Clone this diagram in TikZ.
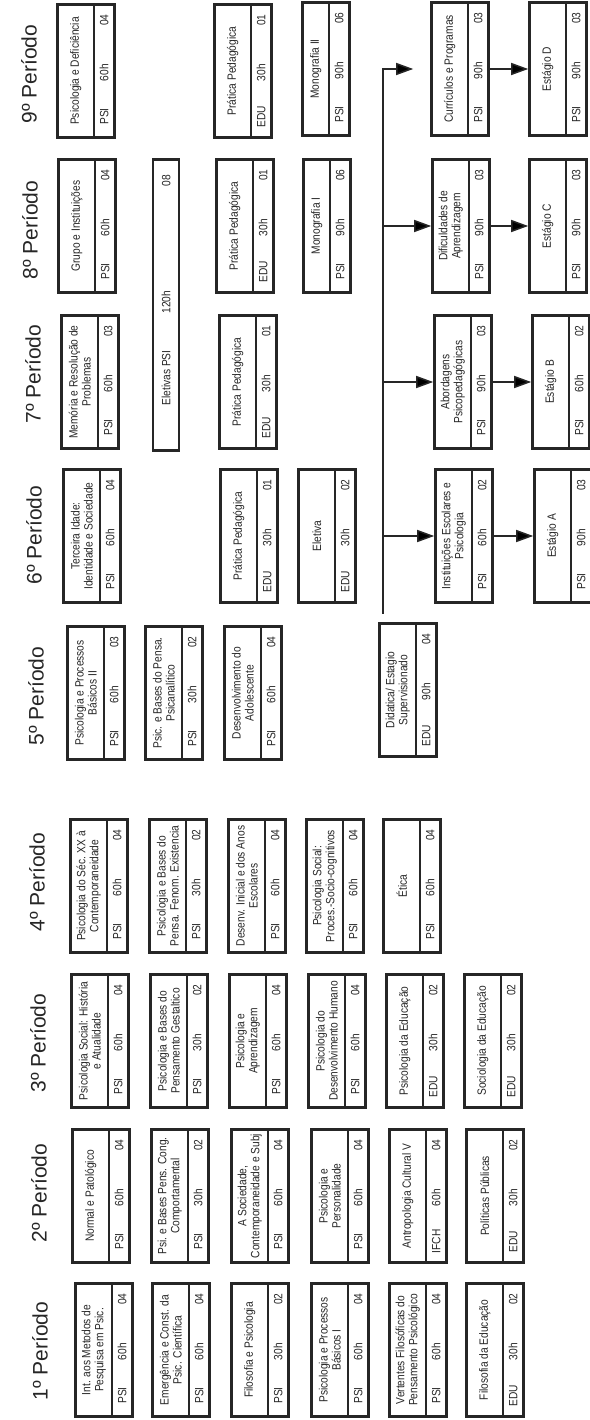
\documentclass[tikz,border=0pt]{standalone}
\usepackage{fontspec}
\setmainfont{Liberation Sans}
\newfontfamily\fonteestreita[FakeStretch=0.85]{Liberation Sans}
\usetikzlibrary{arrows.meta, shapes.multipart, calc}
\definecolor{cinzaescuro}{HTML}{262626}

% caixa de disciplina: [altura do titulo]{nome}{x}{y}{titulo}{depto}{horas}{creditos}
\newcommand{\disciplina}[8][31pt]{%
  \node[disc] (#2) at (#3,#4) {\parbox[c][#1][c]{131pt}{\centering #5}%
    \nodepart{two}\parbox[c][15pt][c]{131pt}{\makebox[40pt][c]{#6}\makebox[48pt][c]{#7}\makebox[43pt][r]{#8\hspace*{9pt}}}};
}

\begin{document}
\begin{tikzpicture}[
    x=1pt, y=-1pt,
    disc/.style={
        rectangle split, rectangle split parts=2,
        draw=cinzaescuro, line width=2.8pt, rotate=90,
        inner sep=1.3pt, text=cinzaescuro,
        font=\fonteestreita\fontsize{12}{13}\selectfont
    },
    eletivas/.style={
        draw=cinzaescuro, line width=2.8pt, rotate=90,
        inner sep=0pt, text=cinzaescuro,
        font=\fonteestreita\fontsize{12}{13}\selectfont
    },
    periodo/.style={rotate=90, text=cinzaescuro, font=\fontsize{21}{24}\selectfont},
    seta/.style={-{Triangle[length=17pt,width=12pt]}, line width=1.5pt, draw=cinzaescuro}
]
\fill[white] (0,0) rectangle (589,1420);
\useasboundingbox (0,0) rectangle (589,1420);

% Titulos dos periodos
\node[periodo] (t1) at (40,1351) {1º Período};
\node[periodo] (t2) at (39,1193) {2º Período};
\node[periodo] (t3) at (38,1043) {3º Período};
\node[periodo] (t4) at (37,882) {4º Período};
\node[periodo] (t5) at (36,696) {5º Período};
\node[periodo] (t6) at (34,535) {6º Período};
\node[periodo] (t7) at (33,374) {7º Período};
\node[periodo] (t8) at (30,230) {8º Período};
\node[periodo] (t9) at (29,74) {9º Período};

% 1º periodo
\disciplina{p1a}{104}{1350}{Int. aos Metodos de\\Pesquisa em Psic.}{PSI}{60h}{04}
\disciplina{p1b}{181}{1350}{Emergência e Const. da\\Psic. Científica}{PSI}{60h}{04}
\disciplina{p1c}{260}{1350}{Filosofia e Psicologia}{PSI}{30h}{02}
\disciplina{p1d}{340}{1350}{Psicologia e Processos\\Básicos I}{PSI}{60h}{04}
\disciplina{p1e}{418}{1350}{Vertentes Filosóficas do\\Pensamento Psicológico}{PSI}{60h}{04}
\disciplina{p1f}{495}{1350}{Filosofia da Educação}{EDU}{30h}{02}

% 2º periodo
\disciplina{p2a}{101}{1196}{Normal e Patológico}{PSI}{60h}{04}
\disciplina{p2b}{180}{1196}{Psi. e Bases Pens. Cong.\\Comportamental}{PSI}{30h}{02}
\disciplina{p2c}{260}{1196}{A Sociedade,\\Contemporaneidade e Subj}{PSI}{60h}{04}
\disciplina{p2d}{340}{1196}{Psicologia e\\Personalidade}{PSI}{60h}{04}
\disciplina{p2e}{418}{1196}{Antropologia Cultural V}{IFCH}{60h}{04}
\disciplina{p2f}{495}{1196}{Políticas Públicas}{EDU}{30h}{02}

% 3º periodo
\disciplina{p3a}{100}{1041}{Psicologia Social: História\\e Atualidade}{PSI}{60h}{04}
\disciplina{p3b}{179}{1041}{Psicologia e Bases do\\Pensamento Gestaltico}{PSI}{30h}{02}
\disciplina{p3c}{258}{1041}{Psicologia e\\Aprendizagem}{PSI}{60h}{04}
\disciplina{p3d}{337}{1041}{Psicologia do\\Desenvolvimento Humano}{PSI}{60h}{04}
\disciplina{p3e}{415}{1041}{Psicologia da Educação}{EDU}{30h}{02}
\disciplina{p3f}{493}{1041}{Sociologia da Educação}{EDU}{30h}{02}

% 4º periodo
\disciplina{p4a}{99}{886}{Psicologia do Séc. XX à\\Contemporaneidade}{PSI}{60h}{04}
\disciplina{p4b}{178}{886}{Psicologia e Bases do\\Pensa. Fenom. Existencia}{PSI}{30h}{02}
\disciplina{p4c}{257}{886}{Desenv. Inicial e dos Anos\\Escolares}{PSI}{60h}{04}
\disciplina{p4d}{335}{886}{Psicologia Social:\\Proces.-Socio-cognitivos}{PSI}{60h}{04}
\disciplina{p4e}{412}{886}{Ética}{PSI}{60h}{04}

% 5º periodo
\disciplina{p5a}{96}{693}{Psicologia e Processos\\Básicos II}{PSI}{60h}{03}
\disciplina{p5b}{174}{693}{Psic. e Bases do Pensa.\\Psicanalítico}{PSI}{30h}{02}
\disciplina{p5c}{253}{693}{Desenvolvimento do\\Adolescente}{PSI}{60h}{04}
\disciplina{didatica}{408}{690}{Didatica/ Estagio\\Supervisionado}{EDU}{90h}{04}

% 6º periodo
\disciplina{p6a}{92}{536}{Terceira Idade:\\Identidade e Sociedade}{PSI}{60h}{04}
\disciplina{p6b}{249}{536}{Prática Pedagógica}{EDU}{30h}{01}
\disciplina{p6c}{327}{536}{Eletiva}{EDU}{30h}{02}
\disciplina{instituicoes}{464}{536}{Instituições Escolares e\\Psicologia}{PSI}{60h}{02}
\disciplina{estagioA}{563}{536}{Estágio A}{PSI}{90h}{03}

% 7º periodo
\disciplina{p7a}{90}{382}{Memória e Resolução de\\Problemas}{PSI}{60h}{03}
\node[eletivas] (eletivaspsi) at (166,305) {\parbox[c][26pt][c]{291pt}{\hspace*{45pt}\makebox[92pt][l]{Eletivas PSI}\makebox[127pt][l]{120h}08}};
\disciplina{p7b}{248}{382}{Prática Pedagógica}{EDU}{30h}{01}
\disciplina{abordagens}{463}{382}{Abordagens\\Psicopedagógicas}{PSI}{90h}{03}
\disciplina{estagioB}{561}{382}{Estágio B}{PSI}{60h}{02}

% 8º periodo
\disciplina{p8a}{87}{226}{Grupo e Instituições}{PSI}{60h}{04}
\disciplina{p8b}{245}{226}{Prática Pedagógica}{EDU}{30h}{01}
\disciplina[21pt]{monografia1}{327}{226}{Monografia I}{PSI}{90h}{06}
\disciplina{dificuldades}{461}{226}{Dificuldades de\\Aprendizagem}{PSI}{90h}{03}
\disciplina{estagioC}{558}{226}{Estágio C}{PSI}{90h}{03}

% 9º periodo
\disciplina{p9a}{86}{71}{Psicologia e Deficiência}{PSI}{60h}{04}
\disciplina{p9b}{243}{71}{Prática Pedagógica}{EDU}{30h}{01}
\disciplina[21pt]{monografia2}{326}{69}{Monografia II}{PSI}{90h}{06}
\disciplina{curriculos}{460}{69}{Currículos e Programas}{PSI}{90h}{03}
\disciplina{estagioD}{558}{69}{Estágio D}{PSI}{90h}{03}

% Setas do estagio
\coordinate (tronco) at ($(didatica.north east)+(5,-8)$);
\coordinate (topo) at ($(curriculos.north)+(-17,0)$);
\draw[seta] (tronco) |- (topo);
\draw[seta] (tronco |- instituicoes.north) -- (instituicoes.north);
\draw[seta] (tronco |- abordagens.north) -- (abordagens.north);
\draw[seta] (tronco |- dificuldades.north) -- (dificuldades.north);
\draw[seta] (instituicoes.south) -- (instituicoes.south -| estagioA.north);
\draw[seta] (abordagens.south) -- (abordagens.south -| estagioB.north);
\draw[seta] (dificuldades.south) -- (dificuldades.south -| estagioC.north);
\draw[seta] (curriculos.south) -- (curriculos.south -| estagioD.north);

\end{tikzpicture}
\end{document}
